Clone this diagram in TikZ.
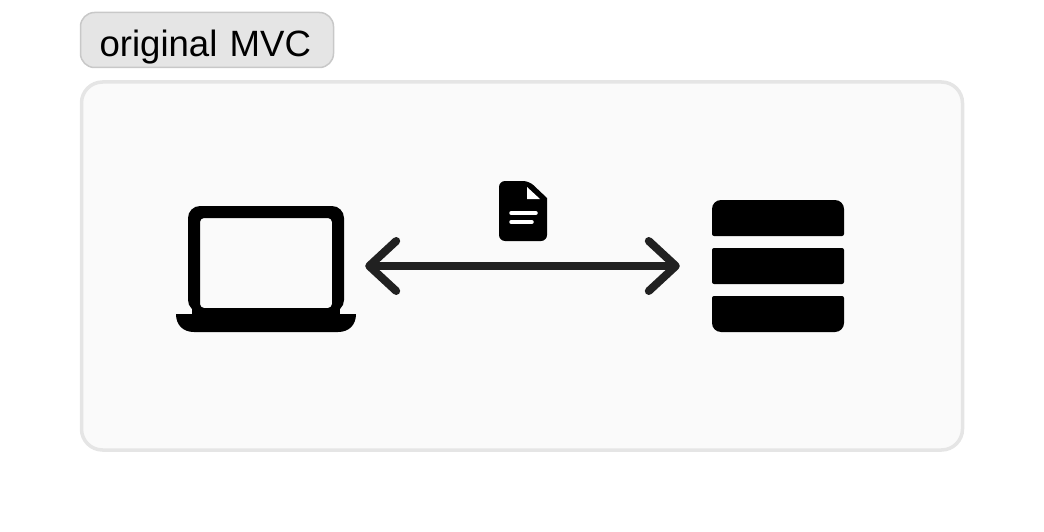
\documentclass[tikz,border=0pt]{standalone}
\usepackage{fontspec}
\setmainfont{Liberation Sans}
\usetikzlibrary{arrows.meta}
\definecolor{panelfill}{HTML}{FAFAFA}
\definecolor{panelline}{HTML}{E5E5E5}
\definecolor{tagline}{HTML}{C8C8C8}
\definecolor{linkcol}{HTML}{212121}
\tikzset{
  tag/.style = {draw=tagline, fill=panelline, line width=1.5pt, rounded corners=14pt, align=left, font=\fontsize{36.6}{40}\selectfont, text width=215pt, inner xsep=19pt, inner ysep=0pt, minimum height=55pt, text height=36pt, text depth=2pt},
  panel/.style = {draw=panelline, fill=panelfill, line width=3.5pt, rounded corners=21pt, minimum width=881pt, minimum height=368pt},
  icon/.style = {inner sep=0pt},
  link/.style = {draw=linkcol, line width=8pt, {Straight Barb[round,length=27pt,width=50pt]}-{Straight Barb[round,length=27pt,width=50pt]}, shorten <=9pt, shorten >=32pt}
}
\begin{document}
\begin{tikzpicture}[x=1pt, y=-1pt]
\useasboundingbox (0,0) rectangle (1044,532);
\node [tag] (label) at (207,40) {original MVC};
\node [panel] (box) at (522,266) {};
\node [icon, minimum width=180pt, minimum height=126pt] (laptop) at (266,269) {};
\node [icon, minimum width=132pt, minimum height=132pt] (server) at (778,266) {};
\node [icon, minimum width=48pt, minimum height=61pt] (doc) at (523,211) {};
% laptop
\fill [even odd rule, rounded corners=12pt] (188,312) -- (188,206) -- (344,206) -- (344,312) -- cycle
  [rounded corners=4pt] (200,308) -- (200,218) -- (332,218) -- (332,308) -- cycle;
\fill (176,314) -- (356,314) .. controls (356,325) and (349,332) .. (338,332) -- (194,332) .. controls (183,332) and (176,325) .. (176,314) -- cycle;
\fill (192,308) rectangle (340,315);
% document
\fill [rounded corners=6pt] (499,241) -- (499,181) -- (529,181) [sharp corners] -- (547,198) [rounded corners=6pt] -- (547,241) -- cycle;
\fill [white] (527,187) -- (527,199) -- (540,199) -- cycle;
\draw [white, line width=3.5pt, line cap=round] (511,213) -- (536,213);
\draw [white, line width=3.5pt, line cap=round] (511,222) -- (532,222);
% server
\foreach \y/\ra/\rb in {200/9/2, 248/2/2, 296/2/9}
  \fill [rounded corners=\ra pt] (712,\y+18) -- (712,\y) -- (844,\y) -- (844,\y+18) [rounded corners=\rb pt] -- (844,\y+36) -- (712,\y+36) -- cycle;
% link
\draw [link] (laptop.east |- server.west) -- (server.west);
\end{tikzpicture}
\end{document}
